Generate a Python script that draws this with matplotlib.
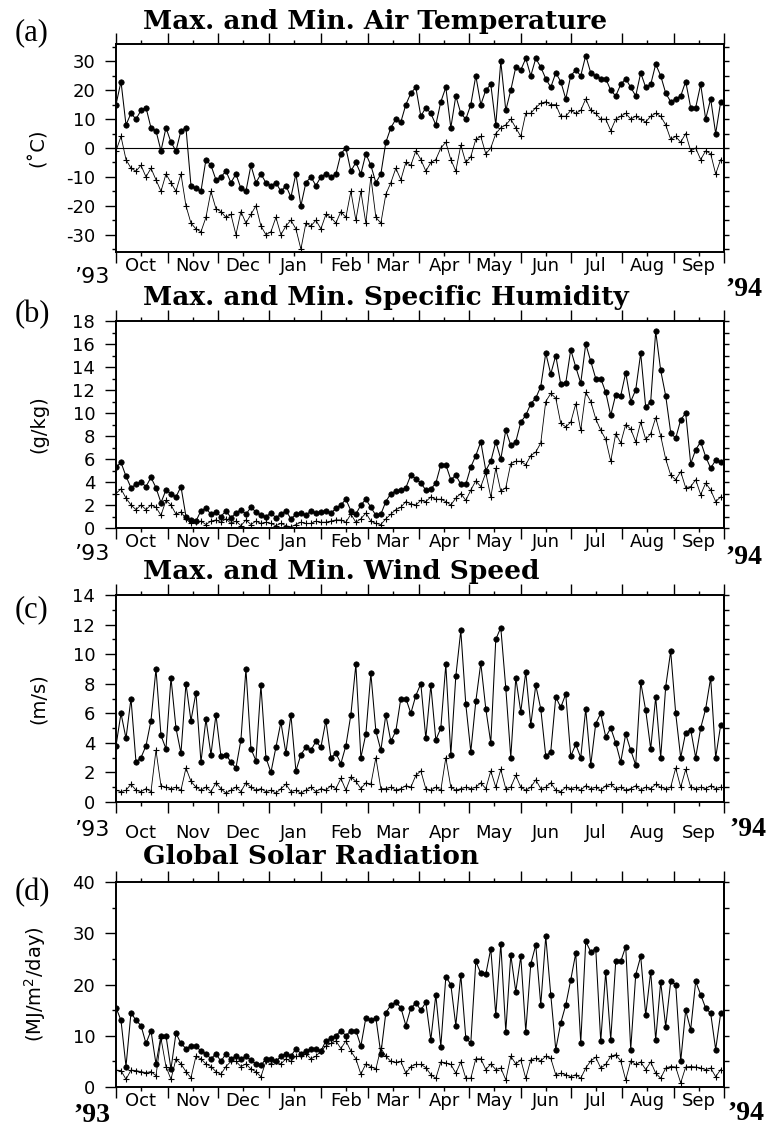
"""Daily max/min air temperature, specific humidity, wind speed and
global solar radiation, Oct 1993 - Sep 1994 (values every 3rd day,
read off the published figure).
"""

import numpy as np
import pandas as pd
import matplotlib
matplotlib.use('Agg')
import matplotlib.pyplot as plt
import matplotlib.dates as mdates
from matplotlib.ticker import MultipleLocator, NullFormatter

plt.rcParams['axes.unicode_minus'] = False

#########
# Data  #
#########
# one value every 3 days starting 1 Oct 1993 (rows ~ one month each)
t_max = [15, 23, 8, 12, 10, 13, 14, 7, 6, -1, 7,
         2, -1, 6, 7, -13, -14, -15, -4, -6, -11,
         -10, -8, -12, -9, -14, -15, -6, -12, -9, -12,
         -13, -12, -15, -13, -17, -9, -20, -12, -10, -13,
         -10, -9, -10, -9, -2, 0, -8, -5, -9, -2,
         -6, -12, -9, 2, 7, 10, 9, 15, 19, 21,
         11, 14, 12, 8, 16, 21, 7, 18, 12, 10,
         15, 25, 15, 20, 22, 8, 30, 13, 20, 28,
         27, 31, 25, 31, 28, 24, 21, 26, 23, 17,
         25, 27, 25, 32, 26, 25, 24, 24, 20, 18,
         22, 24, 21, 18, 26, 21, 22, 29, 25, 19, 16,
         17, 18, 23, 14, 14, 22, 10, 17, 5, 16]

t_min = [-1, 4, -4, -7, -8, -6, -10, -7, -11, -15, -9,
         -12, -15, -9, -20, -26, -28, -29, -24, -15, -21,
         -22, -24, -23, -30, -22, -26, -23, -20, -27, -30,
         -29, -24, -30, -27, -25, -28, -35, -26, -27, -25,
         -28, -23, -24, -26, -22, -24, -15, -25, -15, -26,
         -10, -24, -26, -16, -12, -7, -11, -5, -6, -1,
         -4, -8, -5, -4, 0, 2, -4, -8, 1, -5,
         -3, 3, 4, -2, 0, 5, 7, 8, 10, 7,
         4, 12, 12, 14, 15.5, 16, 15, 15, 11, 11,
         13, 12, 13, 17, 13, 12, 10, 10, 6, 10,
         11, 12, 10, 11, 10, 9, 11, 12, 11, 8, 3,
         4, 2, 5, -1, 0, -4, -1, -2, -9, -4]

q_max = [5.3, 5.7, 4.5, 3.5, 3.8, 4.0, 3.6, 4.4, 3.5, 2.2, 3.3,
         3.0, 2.7, 3.6, 1.0, 0.7, 0.6, 1.5, 1.7, 1.2, 1.4,
         1.0, 1.5, 0.9, 1.3, 1.6, 1.2, 1.8, 1.4, 1.1, 1.0,
         1.3, 0.9, 1.2, 1.5, 0.8, 1.2, 1.3, 1.1, 1.5, 1.3,
         1.4, 1.5, 1.3, 1.7, 2.0, 2.5, 1.5, 1.2, 2.0, 2.5,
         1.8, 1.1, 1.2, 2.3, 3.0, 3.2, 3.3, 3.5, 4.6, 4.3,
         3.9, 3.3, 3.4, 3.9, 5.5, 5.5, 4.2, 4.6, 3.8, 3.8,
         5.3, 6.3, 7.5, 5.0, 5.8, 7.5, 6.0, 8.5, 7.2, 7.5,
         9.2, 9.8, 10.8, 11.3, 12.3, 15.2, 13.4, 15.0, 12.5, 12.6,
         15.5, 14.0, 12.6, 16.0, 14.5, 13.0, 13.0, 11.8, 9.8, 11.6,
         11.5, 13.5, 11.0, 12.0, 15.2, 10.5, 11.0, 17.1, 13.7, 11.5, 8.3,
         7.8, 9.4, 10.0, 5.6, 6.8, 7.5, 6.2, 5.2, 5.9, 5.7]

q_min = [3.0, 3.4, 2.6, 2.0, 1.6, 2.0, 1.6, 2.0, 1.8, 1.1, 2.4,
         2.0, 1.2, 1.4, 0.8, 0.4, 0.5, 0.6, 0.3, 0.6, 0.7,
         0.5, 0.8, 0.4, 0.6, 0.2, 0.7, 0.3, 0.6, 0.4, 0.5,
         0.4, 0.2, 0.4, 0.2, 0.1, 0.3, 0.5, 0.4, 0.4, 0.6,
         0.5, 0.5, 0.6, 0.7, 0.7, 0.5, 1.2, 0.5, 0.8, 1.3,
         0.6, 0.4, 0.3, 0.8, 1.2, 1.6, 1.8, 2.3, 2.1, 2.0,
         2.4, 2.3, 2.7, 2.5, 2.5, 2.3, 2.0, 2.6, 3.0, 2.4,
         3.3, 4.1, 3.6, 4.8, 2.7, 5.2, 3.2, 3.5, 5.6, 5.8,
         5.8, 5.5, 6.3, 6.6, 7.4, 11.0, 11.7, 11.3, 9.1, 8.8,
         9.2, 10.8, 8.5, 11.8, 11.0, 9.5, 8.5, 7.7, 5.8, 8.2,
         7.4, 9.0, 8.6, 7.5, 9.2, 7.7, 8.2, 9.6, 8.0, 6.0, 4.6,
         4.2, 4.9, 3.5, 3.6, 4.2, 2.9, 3.9, 3.3, 2.3, 2.7]

w_max = [3.8, 6.0, 4.3, 7.0, 2.7, 3.0, 3.8, 5.5, 9.0, 4.5, 3.6,
         8.4, 5.0, 3.3, 8.0, 5.5, 7.4, 2.7, 5.6, 3.2, 5.9,
         3.1, 3.2, 2.7, 2.3, 4.2, 9.0, 3.6, 2.8, 7.9, 3.0,
         2.0, 3.7, 5.4, 3.3, 5.9, 2.1, 3.2, 3.7, 3.5, 4.1,
         3.7, 5.5, 3.0, 3.3, 2.6, 3.8, 5.9, 9.3, 3.0, 4.6,
         8.7, 4.8, 3.5, 5.9, 4.1, 4.8, 7.0, 7.0, 6.0, 7.2,
         8.0, 4.3, 7.9, 4.2, 5.0, 9.3, 3.2, 8.5, 11.6, 6.6,
         3.4, 6.8, 9.4, 6.3, 4.0, 11.0, 11.8, 7.7, 3.0, 8.4,
         6.1, 8.8, 5.2, 7.9, 6.3, 3.1, 3.4, 7.1, 6.4, 7.3,
         3.1, 3.9, 3.0, 6.3, 2.5, 5.3, 6.0, 4.4, 5.0, 4.0,
         2.7, 4.6, 3.5, 2.5, 8.1, 6.2, 3.6, 7.1, 3.0, 7.8, 10.2,
         6.0, 3.0, 4.7, 4.9, 3.0, 5.0, 6.3, 8.4, 3.0, 5.2]

w_min = [0.8, 0.7, 0.8, 1.2, 0.8, 0.7, 0.9, 0.7, 3.5, 1.1, 1.0,
         0.9, 1.0, 0.8, 2.3, 1.4, 1.0, 0.8, 1.0, 0.7, 1.3,
         0.9, 0.6, 0.8, 1.0, 0.7, 1.3, 1.0, 0.8, 0.9, 0.7,
         0.8, 0.6, 0.9, 1.2, 0.7, 0.8, 0.6, 0.8, 1.0, 0.7,
         0.9, 0.8, 1.1, 0.9, 1.6, 0.8, 1.7, 1.4, 0.9, 1.3,
         1.2, 3.0, 0.9, 0.9, 1.0, 0.8, 0.9, 1.1, 1.0, 1.8,
         2.1, 0.9, 0.8, 1.0, 0.8, 3.0, 1.0, 0.8, 0.9, 1.0,
         0.9, 1.0, 1.3, 0.9, 2.1, 1.0, 2.2, 0.9, 1.0, 1.8,
         1.0, 0.8, 1.0, 1.5, 0.9, 1.0, 1.3, 0.8, 0.7, 1.0,
         0.9, 1.0, 0.8, 1.1, 0.9, 1.0, 0.8, 1.1, 1.2, 0.9,
         1.0, 0.8, 0.9, 1.1, 0.8, 1.0, 0.9, 1.2, 1.0, 0.9, 1.0,
         2.3, 1.0, 2.2, 1.0, 0.9, 1.0, 0.9, 1.1, 0.9, 1.0]

s_max = [15.5, 13.0, 4.0, 14.5, 13.0, 12.0, 8.5, 11.0, 4.5, 10.0, 10.0,
         3.5, 10.5, 8.5, 7.5, 8.0, 8.0, 7.0, 6.5, 5.5, 6.5,
         5.0, 6.5, 5.5, 6.0, 5.5, 6.0, 5.2, 4.5, 4.2, 5.5,
         5.5, 5.0, 6.0, 6.5, 6.0, 7.5, 6.5, 7.0, 7.5, 7.5,
         7.0, 9.0, 9.5, 10.0, 11.0, 10.0, 11.0, 11.0, 8.0, 13.5,
         13.0, 13.5, 6.5, 14.5, 16.0, 16.5, 15.5, 12.0, 15.4, 16.4,
         15.0, 16.5, 9.2, 18.0, 7.9, 21.5, 20.0, 12.0, 21.9, 9.5,
         8.6, 24.5, 22.2, 22.0, 27.0, 14.0, 28.0, 10.8, 25.8, 18.6,
         25.5, 10.8, 24.0, 27.7, 16.0, 29.4, 18.0, 7.3, 12.5, 16.0,
         20.9, 26.1, 8.6, 28.4, 26.4, 27.0, 8.9, 22.5, 9.2, 24.5,
         24.5, 27.4, 7.3, 21.9, 25.5, 14.0, 22.5, 9.2, 20.5, 11.8, 20.6,
         20.0, 5.0, 15.0, 11.2, 20.6, 18.0, 15.4, 14.4, 7.3, 14.4]

s_min = [3.3, 3.2, 1.5, 3.3, 3.2, 3.0, 2.8, 3.0, 2.2, 9.5, 4.0,
         1.5, 5.5, 4.5, 3.0, 1.8, 6.0, 5.5, 4.5, 4.0, 3.0,
         2.5, 4.0, 5.0, 5.0, 4.0, 4.5, 3.5, 3.0, 2.0, 5.0,
         4.5, 5.0, 4.5, 5.5, 5.0, 6.0, 6.0, 6.5, 5.5, 6.0,
         7.0, 8.0, 8.5, 9.0, 7.5, 9.0, 7.0, 5.5, 2.5, 4.5,
         4.0, 3.5, 7.6, 6.0, 5.0, 4.8, 5.0, 2.7, 4.0, 4.4,
         4.4, 3.8, 2.4, 1.7, 4.9, 4.7, 4.4, 2.7, 4.9, 1.7,
         1.7, 5.5, 5.5, 3.4, 4.5, 3.4, 3.7, 1.4, 6.0, 4.5,
         5.3, 1.7, 5.3, 5.6, 5.1, 6.0, 5.6, 2.4, 2.7, 2.4,
         2.0, 2.4, 1.7, 3.7, 5.1, 5.8, 3.7, 4.4, 6.0, 6.3,
         5.1, 1.4, 5.1, 4.4, 4.9, 3.4, 4.9, 2.7, 1.7, 3.7, 4.0,
         3.9, 0.8, 3.9, 4.0, 3.9, 3.7, 3.4, 3.7, 2.0, 3.4]

titles = ['Max. and Min. Air Temperature', 'Max. and Min. Specific Humidity',
          'Max. and Min. Wind Speed', 'Global Solar Radiation']
letters = ['(a)', '(b)', '(c)', '(d)']
ylabels = ['(˚C)', '(g/kg)', '(m/s)', '(MJ/m$^2$/day)']

dates = pd.date_range('1993-10-01', periods=len(t_max), freq='3D')


##########
# Layout #
##########
W, H = 767, 1126
fig = plt.figure(figsize=(W / 100, H / 100), dpi=100)

# axes boxes in pixels (top, bottom), x from 116 to 724
boxes = [(44, 252), (321, 528), (595, 802), (882, 1087)]
ylims = [(-36, 36), (0, 18), (0, 14), (0, 40)]
steps = [(10, 5), (2, 1), (2, 1), (10, 5)]
series = [(t_max, t_min), (q_max, q_min), (w_max, w_min), (s_max, s_min)]
title_y = [22, 297, 572, 857]
letter_y = [33, 315, 610, 893]

serif_bold = dict(family='Liberation Serif', weight='bold', size=20)


def fx(px):
    return px / W


def fy(py):
    return 1 - py / H


for i in range(4):
    top, bot = boxes[i]
    ax = fig.add_axes([fx(116), fy(bot), fx(724 - 116), (bot - top) / H])
    hi, lo = series[i]

    if i == 0:
        ax.axhline(0, color='black', lw=0.8, zorder=1)

    ax.plot(dates, hi, color='black', lw=0.75, marker='o', ms=3.9,
            mfc='black', mec='black', mew=0.5)
    ax.plot(dates, lo, color='black', lw=0.6, marker='+', ms=4.5, mew=0.8)

    # x axis: month boundaries as ticks, labels at mid-month
    ax.set_xlim(pd.Timestamp('1993-10-01'), pd.Timestamp('1994-10-01'))
    ax.xaxis.set_major_locator(mdates.MonthLocator())
    ax.xaxis.set_major_formatter(NullFormatter())
    ax.xaxis.set_minor_locator(mdates.MonthLocator(bymonthday=16))
    ax.xaxis.set_minor_formatter(mdates.DateFormatter('%b'))
    lab_pad = 13 if i == 2 else 0.5
    ax.tick_params(axis='x', which='major', direction='out', length=8,
                   width=1, top=True, bottom=True)
    ax.tick_params(axis='x', which='minor', direction='out', length=3,
                   width=1, top=True, bottom=True, labelsize=13, pad=lab_pad)

    # y axis
    ax.set_ylim(*ylims[i])
    ax.yaxis.set_major_locator(MultipleLocator(steps[i][0]))
    ax.yaxis.set_minor_locator(MultipleLocator(steps[i][1]))
    ax.tick_params(axis='y', which='major', direction='out', length=8,
                   width=1, labelsize=13, pad=7, right=False)
    ax.tick_params(axis='y', which='minor', direction='out', length=3,
                   width=1, right=False)

    # short ticks on the right side at every step
    sec = ax.secondary_yaxis('right')
    sec.yaxis.set_major_locator(MultipleLocator(steps[i][1]))
    sec.yaxis.set_major_formatter(NullFormatter())
    sec.tick_params(direction='out', length=3.5, width=1)
    sec.spines['right'].set_linewidth(1.4)

    for sp in ax.spines.values():
        sp.set_linewidth(1.4)

    ax.set_ylabel(ylabels[i], fontsize=14, labelpad=4)
    ax.yaxis.set_label_coords(fx(48 - 116) / fx(724 - 116), 0.5)

    fig.text(fx(143), fy(title_y[i]), titles[i], family='DejaVu Serif',
             weight='bold', size=19, ha='left', va='center')
    fig.text(fx(32), fy(letter_y[i]), letters[i], family='Liberation Serif',
             size=22, ha='center', va='center')


# year marks at the ends of the time axes
fig.text(fx(92), fy(277), '’93', size=16, ha='center', va='center')
fig.text(fx(744), fy(289), '’94', ha='center', va='center', **serif_bold)
fig.text(fx(92), fy(554), '’93', size=16, ha='center', va='center')
fig.text(fx(744), fy(558), '’94', ha='center', va='center', **serif_bold)
fig.text(fx(92), fy(830), '’93', size=16, ha='center', va='center')
fig.text(fx(748), fy(830), '’94', ha='center', va='center', **serif_bold)
fig.text(fx(92), fy(1115), '’93', ha='center', va='center', **serif_bold)
fig.text(fx(746), fy(1114), '’94', ha='center', va='center', **serif_bold)

fig.savefig('out.png', dpi=100)
